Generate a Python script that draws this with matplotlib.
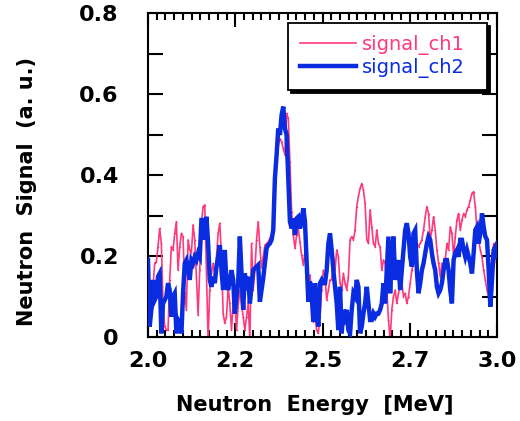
import numpy as np
import matplotlib
matplotlib.use("Agg")
import matplotlib.pyplot as plt
from matplotlib.ticker import MultipleLocator, FixedLocator

# Neutron energy spectra from two detector channels
ch1_signal = [
    0.116, 0.067, 0.100, 0.124, 0.182, 0.186, 0.223, 0.268, 0.231, 0.083,
    0.026, 0.017, 0.017, 0.141, 0.223, 0.215, 0.256, 0.285, 0.165, 0.223,
    0.256, 0.248, 0.108, 0.067, 0.240, 0.215, 0.207, 0.277, 0.240, 0.149,
    0.054, 0.165, 0.281, 0.322, 0.326, 0.157, -0.007, 0.116, 0.157, 0.182,
    0.149, 0.198, 0.256, 0.281, 0.198, 0.058, 0.034, 0.050, 0.124, 0.083,
    0.017, 0.083, 0.100, 0.017, 0.075, 0.116, 0.083, 0.050, 0.017, 0.050,
    0.083, -0.007, 0.231, 0.116, 0.165, 0.240, 0.285, 0.223, 0.170, 0.198,
    0.227, 0.231, 0.235, 0.244, 0.252, 0.268, 0.367, 0.433, 0.474, 0.490,
    0.482, 0.466, 0.449, 0.552, 0.540, 0.433, 0.309, 0.252, 0.219, 0.252,
    0.268, 0.235, 0.202, 0.178, 0.211, 0.145, 0.137, 0.153, 0.104, 0.038,
    0.050, 0.017, 0.009, 0.050, 0.116, 0.165, 0.149, 0.091, 0.116, 0.141,
    0.141, 0.198, 0.165, 0.215, 0.198, 0.133, 0.116, 0.157, 0.133, 0.116,
    0.149, 0.240, 0.248, 0.240, 0.264, 0.322, 0.347, 0.367, 0.379, 0.363,
    0.330, 0.240, 0.231, 0.314, 0.272, 0.231, 0.223, 0.264, 0.231, 0.223,
    0.165, 0.190, 0.182, 0.116, 0.042, -0.007, 0.067, 0.100, 0.116, 0.083,
    0.108, 0.124, 0.133, 0.100, 0.108, 0.083, 0.100, 0.133, 0.165, 0.182,
    0.215, 0.231, 0.223, 0.231, 0.240, 0.264, 0.297, 0.322, 0.305, 0.240,
    0.264, 0.297, 0.264, 0.215, 0.182, 0.149, 0.182, 0.174, 0.190, 0.231,
    0.215, 0.272, 0.256, 0.198, 0.248, 0.289, 0.305, 0.264, 0.289, 0.305,
    0.297, 0.314, 0.322, 0.338, 0.355, 0.359, 0.322, 0.264, 0.240, 0.215,
    0.198, 0.165, 0.141, 0.116, 0.100, 0.141, 0.198, 0.231, 0.207, 0.174,
]

ch2_signal = [
    0.190, 0.026, 0.067, 0.141, 0.091, 0.100, 0.149, 0.157, 0.009, 0.083,
    0.091, 0.100, 0.133, 0.116, 0.050, 0.100, 0.108, 0.009, 0.042, 0.034,
    0.009, 0.108, 0.182, 0.190, 0.165, 0.141, 0.190, 0.182, 0.198, 0.190,
    0.207, 0.198, 0.289, 0.289, 0.240, 0.297, 0.231, 0.141, 0.124, 0.149,
    0.133, 0.174, 0.198, 0.227, 0.165, 0.116, 0.215, 0.133, 0.116, 0.141,
    0.165, 0.141, 0.058, 0.100, 0.133, 0.248, 0.157, 0.067, 0.157, 0.116,
    0.149, 0.083, 0.124, 0.165, 0.170, 0.174, 0.178, 0.087, 0.116, 0.145,
    0.182, 0.219, 0.227, 0.231, 0.240, 0.264, 0.392, 0.449, 0.515, 0.499,
    0.548, 0.569, 0.515, 0.499, 0.392, 0.285, 0.268, 0.293, 0.252, 0.293,
    0.297, 0.268, 0.285, 0.318, 0.285, 0.186, 0.087, 0.137, 0.104, 0.038,
    0.133, 0.067, 0.026, 0.133, 0.141, 0.133, 0.133, 0.165, 0.231, 0.256,
    0.215, 0.165, 0.124, 0.083, 0.017, 0.124, 0.009, 0.067, 0.050, 0.067,
    0.017, 0.009, 0.067, 0.108, 0.100, 0.141, 0.124, 0.009, 0.026, 0.058,
    0.083, 0.124, 0.083, 0.042, 0.042, 0.058, 0.050, 0.058, 0.058, 0.067,
    0.083, 0.133, 0.083, 0.165, 0.248, 0.108, 0.198, 0.248, 0.141, 0.165,
    0.190, 0.116, 0.165, 0.215, 0.264, 0.281, 0.256, 0.198, 0.174, 0.256,
    0.264, 0.165, 0.108, 0.133, 0.165, 0.182, 0.207, 0.231, 0.248, 0.240,
    0.207, 0.182, 0.165, 0.124, 0.108, 0.116, 0.133, 0.165, 0.190, 0.190,
    0.165, 0.116, 0.083, 0.190, 0.207, 0.215, 0.198, 0.240, 0.240, 0.215,
    0.198, 0.215, 0.198, 0.182, 0.157, 0.207, 0.264, 0.272, 0.231, 0.256,
    0.305, 0.272, 0.248, 0.240, 0.165, 0.075, 0.141, 0.215, 0.223, 0.198,
]

energy = np.linspace(2.0, 3.0, len(ch1_signal))

x_ticks = [2.0, 2.25, 2.5, 2.75, 3.0]
x_tick_labels = ["2.0", "2.2", "2.5", "2.7", "3.0"]
y_ticks = [0.0, 0.2, 0.4, 0.6, 0.8]
y_tick_labels = ["0", "0.2", "0.4", "0.6", "0.8"]

PINK = "#ff3a7c"
BLUE = "#0a2ce0"

fig = plt.figure(figsize=(5.2, 4.21), dpi=100)
ax = fig.add_axes([0.2846, 0.1995, 0.6712, 0.7695])

ax.plot(energy, ch1_signal, color=PINK, lw=1.2, label="signal_ch1",
        zorder=2)
ax.plot(energy, ch1_signal, ls="none", marker=".", ms=2.2,
        mec="none", mfc="#e8306e", zorder=2)
ax.plot(energy, ch2_signal, color=BLUE, lw=3.2, label="signal_ch2",
        zorder=3, solid_joinstyle="miter")

ax.set_xlim(2.0, 3.0)
ax.set_ylim(0.0, 0.8)

ax.xaxis.set_major_locator(FixedLocator(x_ticks))
ax.set_xticklabels(x_tick_labels)
ax.xaxis.set_minor_locator(MultipleLocator(0.025))
ax.yaxis.set_major_locator(FixedLocator(y_ticks))
ax.set_yticklabels(y_tick_labels)
ax.yaxis.set_minor_locator(MultipleLocator(0.1))

ax.tick_params(axis="both", which="both", direction="in",
               top=True, right=True, width=1.5, color="black")
ax.tick_params(axis="x", which="major", length=10, pad=10,
               labelsize=16)
ax.tick_params(axis="x", which="minor", length=5)
ax.tick_params(axis="y", which="major", length=11, pad=21,
               labelsize=16)
ax.tick_params(axis="y", which="minor", length=11)
for lbl in ax.get_xticklabels() + ax.get_yticklabels():
    lbl.set_fontweight("bold")

for sp in ax.spines.values():
    sp.set_linewidth(1.5)

ax.set_xlabel("Neutron  Energy  [MeV]", fontsize=15, fontweight="bold")
ax.set_ylabel("Neutron  Signal  (a. u.)", fontsize=15, fontweight="bold")
ax.xaxis.set_label_coords(0.478, -0.178)
ax.yaxis.set_label_coords(-0.318, 0.448)

leg = ax.legend(loc="upper left", bbox_to_anchor=(0.401, 0.0, 0.570, 0.969),
                mode="expand", borderaxespad=0, fontsize=14,
                labelcolor="linecolor",
                fancybox=False, framealpha=1, edgecolor="black",
                handlelength=2.9, handletextpad=0.3, borderpad=0.62,
                labelspacing=0.15,
                shadow={"color": "black", "alpha": 1})
leg.get_frame().set_linewidth(1.3)

fig.savefig("out.png", dpi=100)
